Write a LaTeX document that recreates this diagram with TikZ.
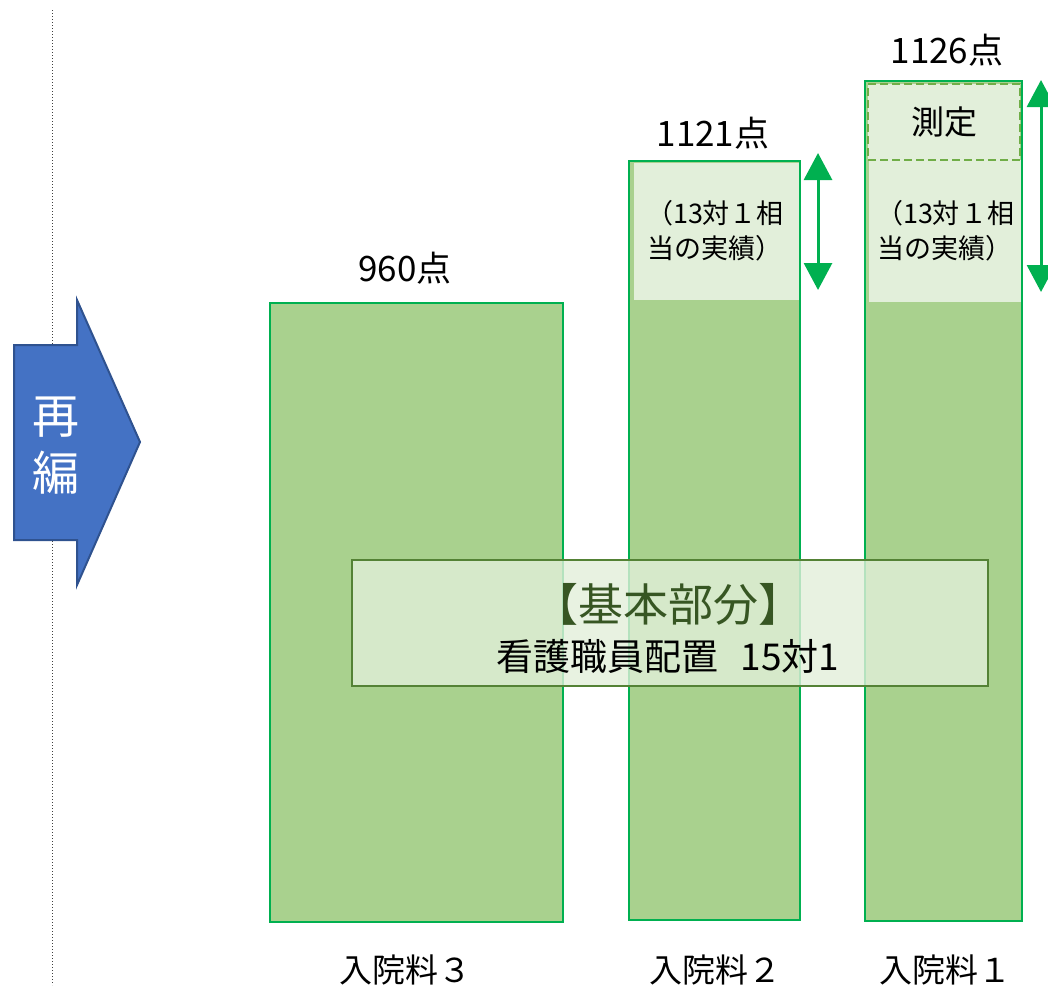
\documentclass[tikz,border=0pt]{standalone}
\usepackage{fontspec}
\setmainfont{Noto Sans CJK JP}
\usetikzlibrary{arrows.meta}

\definecolor{bardark}{HTML}{A9D18E}
\definecolor{barlight}{HTML}{E2EFDA}
\definecolor{barline}{HTML}{00B050}
\definecolor{dashline}{HTML}{70AD47}
\definecolor{baseline}{HTML}{548235}
\definecolor{basetext}{HTML}{375623}
\definecolor{arrowblue}{HTML}{4472C4}
\definecolor{arrowedge}{HTML}{2F528F}

\tikzstyle{bar}=[rectangle, draw=barline, fill=bardark, inner sep=0, outer sep=0]
\tikzstyle{label}=[font=\fontsize{35}{40}\selectfont, inner sep=0]
\tikzstyle{note}=[font=\fontsize{27}{35}\selectfont, align=center, inner sep=0]
\tikzstyle{span}=[draw=barline, line width=3, {Triangle[width=28pt,length=27pt]}-{Triangle[width=28pt,length=27pt]}]
\newcommand{\lightpart}[4]{
  \fill[barlight] (#1,#2) rectangle (#3,#4);
}

\begin{document}
\begin{tikzpicture}[x=1pt, y=-1pt]
  \useasboundingbox (0,0) rectangle (1048,985);

  % dotted divider
  \coordinate (divtop) at (52,10);
  \coordinate (divbot) at (52,985);
  \draw[black!75, dotted, line width=1] (divtop) -- (divbot);

  % blue arrow
  \draw[fill=arrowblue, draw=arrowedge, line width=2] (14,345) -- (77,345) -- (77,300) -- (140,442) -- (77,585) -- (77,540) -- (14,540) -- cycle;
  \node[white, font=\fontsize{47}{57}\selectfont, align=center, inner sep=0] (saihen) at (56,446) {再\\編};

  % bars
  \node[bar, line width=1.5, minimum width=293, minimum height=619] (bar3) at (416.5,612.5) {};

  \node[bar, line width=2.5, minimum width=171, minimum height=759] (bar2) at (714.5,540.5) {};
  \lightpart{634}{163}{799}{300}
  \draw[barline, line width=2.5] (bar2.north west) rectangle (bar2.south east);

  \node[bar, line width=2.5, minimum width=157, minimum height=840] (bar1) at (943.5,501) {};
  \lightpart{869}{160}{1021}{302}
  \node[rectangle, fill=barlight, draw=dashline, dash pattern=on 8pt off 4pt, line width=2.5, minimum width=152, minimum height=76, inner sep=0] (sokutei) at (944,122) {};
  \draw[barline, line width=2.5] (bar1.north west) rectangle (bar1.south east);

  % points
  \node[label] (p3) at (405,268) {960点};
  \node[label] (p2) at (713,133) {1121点};
  \node[label] (p1) at (947,50) {1126点};

  % notes in the light parts
  \node[note] (n2) at (715,231) {（13対１相\\当の実績）};
  \node[note] (n1) at (945,231) {（13対１相\\当の実績）};
  \node[font=\fontsize{33}{38}\selectfont, inner sep=0] at (sokutei) {測定};

  % span arrows
  \coordinate (s2top) at (818,153);
  \coordinate (s2bot) at (818,290);
  \coordinate (s1top) at (1041,80);
  \coordinate (s1bot) at (1041,292);
  \draw[span] (s2top) -- (s2bot);
  \draw[span] (s1top) -- (s1bot);

  % base part
  \node[rectangle, fill=barlight, fill opacity=0.8, draw=baseline, line width=1.5, minimum width=636, minimum height=126, inner sep=0] (base) at (670,623) {};
  \node[basetext, font=\fontsize{45}{50}\selectfont, inner sep=0] (basetitle) at (668,604) {【基本部分】};
  \node[font=\fontsize{37}{42}\selectfont, inner sep=0] (basestaff) at (668,656) {看護職員配置\hspace{0.6em}15対1};

  % bar names
  \node[label, font=\fontsize{33}{38}\selectfont] (name3) at (405,970) {入院料３};
  \node[label, font=\fontsize{33}{38}\selectfont] (name2) at (715,970) {入院料２};
  \node[label, font=\fontsize{33}{38}\selectfont] (name1) at (945,970) {入院料１};
\end{tikzpicture}
\end{document}
